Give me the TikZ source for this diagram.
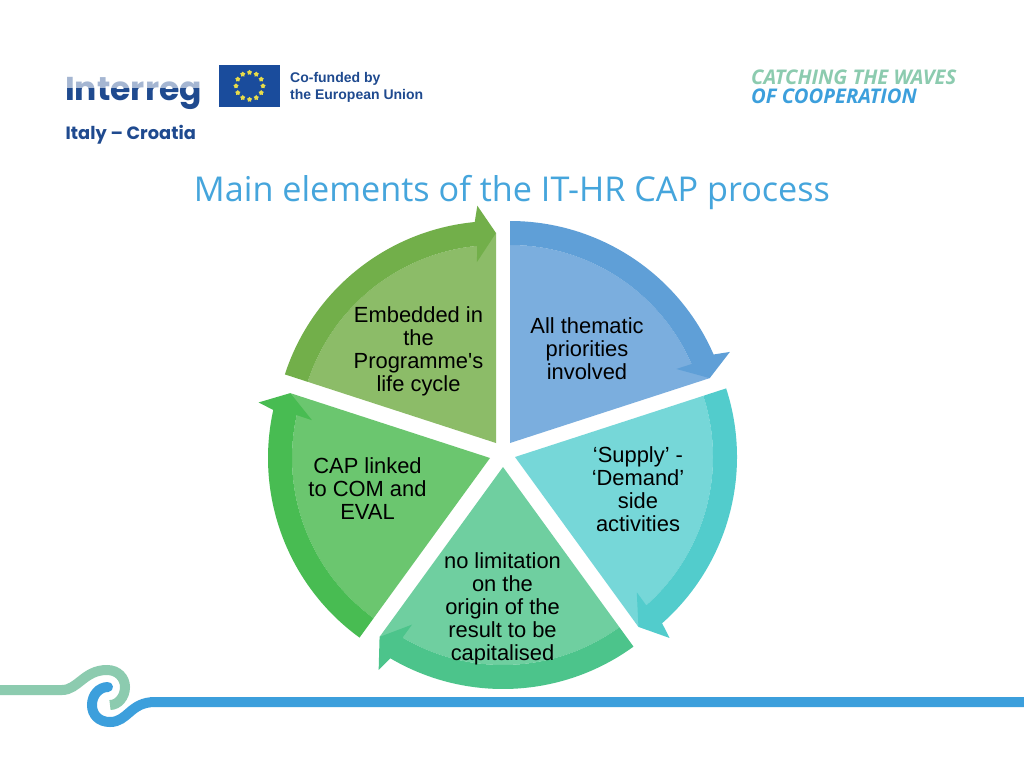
\documentclass[tikz,border=0pt]{standalone}
\usepackage{fontspec}
\setmainfont{Liberation Sans}
\newfontfamily\titlefont{Open Sans}
\newfontfamily\logofont{Poppins}
\usetikzlibrary{shapes.geometric}
\definecolor{titleblue}{HTML}{45A5DC}
\definecolor{navy}{HTML}{1F4A8F}
\definecolor{flagblue}{HTML}{1A4C9C}
\definecolor{flagstar}{HTML}{E8DC4A}
\definecolor{wavegreen}{HTML}{8CCBAF}
\definecolor{waveblue}{HTML}{3C9FDC}
\definecolor{blueL}{HTML}{7BAEDE}
\definecolor{blueB}{HTML}{5F9FD7}
\definecolor{tealL}{HTML}{76D7D8}
\definecolor{tealB}{HTML}{52CCCC}
\definecolor{mintL}{HTML}{6FCFA0}
\definecolor{mintB}{HTML}{4CC48B}
\definecolor{greenL}{HTML}{6BC66F}
\definecolor{greenB}{HTML}{48BC52}
\definecolor{oliveL}{HTML}{8CBC68}
\definecolor{oliveB}{HTML}{72AF4A}
\tikzstyle{label} = [align=center, text=black, inner sep=0pt, font=\fontsize{21.9}{22.9}\selectfont]
\tikzstyle{wave} = [line width=10pt, line cap=round]
\tikzset{
  euflagstar/.style ={star, star points=5, fill=flagstar, minimum size=5.5pt, inner sep=0pt}
}

\begin{document}
\begin{tikzpicture}[x=1pt,y=1pt]
  \useasboundingbox (0,-768) rectangle (1024,0);
  \fill[white] (0,-768) rectangle (1024,0);

  % logos
  \node[anchor=base west,inner sep=0pt,text=navy,font=\logofont\bfseries\fontsize{33}{33}\selectfont] (interreg) at (65,-100) {Interreg};
  \fill[white,opacity=0.6] (60,-88) rectangle (205,-70);
  \node[anchor=base west,inner sep=0pt,text=navy,font=\logofont\bfseries\fontsize{17.8}{17.8}\selectfont] (italy) at (65.5,-139) {Italy – Croatia};
  \node[fill=flagblue,minimum width=61pt,minimum height=42pt,inner sep=0pt] (flag) at (249.5,-86) {};
  \foreach \i in {1,...,12}
    \node[euflagstar] (star\i) at ([shift={(\i*30:13.5)}]flag.center) {};
  \node[anchor=west,align=left,inner sep=0pt,text=navy,font=\bfseries\fontsize{14}{17}\selectfont] (cofunded) at (290,-87) {Co-funded by\\the European Union};
  \node[anchor=base west,inner sep=0pt,text=wavegreen,font=\titlefont\bfseries\itshape\fontsize{20.2}{20.2}\selectfont] (catching) at (751,-84) {CATCHING THE WAVES};
  \node[anchor=base west,inner sep=0pt,text=waveblue,font=\titlefont\bfseries\itshape\fontsize{20.2}{20.2}\selectfont] (cooperation) at (751,-103) {OF COOPERATION};

  % title
  \node[anchor=base,inner sep=0pt,text=titleblue,font=\titlefont\fontsize{34.2}{34.2}\selectfont] (title) at (512,-201) {Main elements of the IT-HR CAP process};

  % five sectors
  \foreach \cx/\cy/\a/\lt/\bd in {
    510/-443/90/blueL/blueB,
    515/-457/18/tealL/tealB,
    503/-467/-54/mintL/mintB,
    490/-458/-126/greenL/greenB,
    496/-443/162/oliveL/oliveB}{
    \pgfmathsetmacro\e{\a-72}
    \pgfmathsetmacro\n{\e+5.5}
    \pgfmathsetmacro\bo{\e+4.5}
    \pgfmathsetmacro\bi{\e+6}
    \begin{scope}[shift={(\cx,\cy)}]
      \fill[\lt] (0,0) -- (\a:198) arc[start angle=\a,end angle=\n,radius=198] -- (\e:210) -- cycle;
      \fill[\bd] (\a:222) arc[start angle=\a,end angle=\n,radius=222] -- (\bo:238) -- (\e:210)
        -- (\bi:182) -- (\n:198) arc[start angle=\n,end angle=\a,radius=198] -- cycle;
    \end{scope}
  }

  \node[label] (embedded) at (418.5,-351) {Embedded in\\the\\Programme\textquotesingle s\\life cycle};
  \node[label] (thematic) at (587,-349) {All thematic\\priorities\\involved};
  \node[label] (supply) at (638,-489) {‘Supply’ -\\‘Demand’\\side\\activities};
  \node[label] (origin) at (502.5,-609) {no limitation\\on the\\origin of the\\result to be\\capitalised};
  \node[label] (linked) at (367.5,-488.5) {CAP linked\\to COM and\\EVAL};

  % footer wave
  \draw[wave,wavegreen,line cap=butt] (0,-690) -- (62,-690) .. controls (78,-690) and (84,-670) .. (107,-670)
    .. controls (118,-670) and (125,-678) .. (125,-687) .. controls (125,-697) and (118,-705) .. (110,-705);
  \draw[wave,waveblue] (108,-687) .. controls (99,-687) and (92,-695) .. (92,-705)
    .. controls (92,-715) and (99,-722) .. (110,-722) .. controls (128,-722) and (130,-702) .. (155,-702) -- (1030,-702);
\end{tikzpicture}
\end{document}
